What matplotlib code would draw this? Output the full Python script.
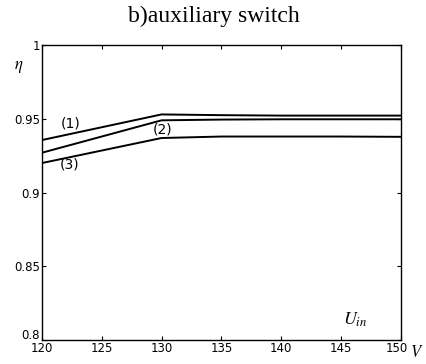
import matplotlib
matplotlib.use("Agg")
import matplotlib.pyplot as plt
import matplotlib.transforms as mtransforms

plt.rcParams["mathtext.fontset"] = "stix"

# input voltage (V) and efficiency for the three cases
u_in = [120, 125, 130, 135, 140, 145, 150]
eta_1 = [0.9356, 0.9443, 0.9530, 0.9525, 0.9522, 0.9522, 0.9522]
eta_2 = [0.9270, 0.9380, 0.9490, 0.9495, 0.9497, 0.9497, 0.9497]
eta_3 = [0.9200, 0.9285, 0.9370, 0.9380, 0.9380, 0.9380, 0.9378]

x_ticks = [120, 125, 130, 135, 140, 145, 150]
x_labels = ["120", "125", "130", "135", "140", "145", "150"]
y_ticks = [0.8, 0.85, 0.9, 0.95, 1.0]
y_labels = ["0.8", "0.85", "0.9", "0.95", "1"]

fig = plt.figure(figsize=(4.27, 3.64), dpi=100)
ax = fig.add_axes([0.098, 0.066, 0.841, 0.810])

for eta in (eta_1, eta_2, eta_3):
    ax.plot(u_in, eta, color="black", lw=1.4)

ax.set_xlim(120, 150)
ax.set_ylim(0.8, 1.0)
ax.set_xticks(x_ticks)
ax.set_xticklabels(x_labels)
ax.set_yticks(y_ticks)
ax.set_yticklabels(y_labels)
ax.tick_params(direction="in", length=3, width=0.8, labelsize=8.5,
               top=True, right=True, pad=1.5)
for s in ax.spines.values():
    s.set_linewidth(1.0)

# lift the bottom y label a little, like the scan
lbl = ax.get_yticklabels()[0]
lbl.set_transform(lbl.get_transform() +
                  mtransforms.ScaledTranslation(0, 4 / 72, fig.dpi_scale_trans))
# and nudge the last x label left so the unit fits beside it
lbl = ax.get_xticklabels()[-1]
lbl.set_transform(lbl.get_transform() +
                  mtransforms.ScaledTranslation(-3 / 72, 0, fig.dpi_scale_trans))

# unit after the last x tick label
ax.text(1.045, -0.01, r"$V$", transform=ax.transAxes, fontsize=12,
        ha="center", va="top")

# curve labels
ax.text(122.4, 0.947, "(1)", fontsize=10, family="Liberation Sans Narrow",
        ha="center", va="center")
ax.text(130.1, 0.943, "(2)", fontsize=10, family="Liberation Sans Narrow",
        ha="center", va="center")
ax.text(122.3, 0.919, "(3)", fontsize=10, family="Liberation Sans Narrow",
        ha="center", va="center")

ax.text(-0.065, 0.93, r"$\eta$", transform=ax.transAxes, fontsize=12,
        ha="center", va="center")
ax.text(0.872, 0.07, r"$U_{in}$", transform=ax.transAxes, fontsize=13,
        ha="center", va="center")

fig.text(0.5, 0.955, "b)auxiliary switch", fontsize=17,
         family="Liberation Serif", ha="center", va="center")

fig.savefig("out.png", dpi=100)
